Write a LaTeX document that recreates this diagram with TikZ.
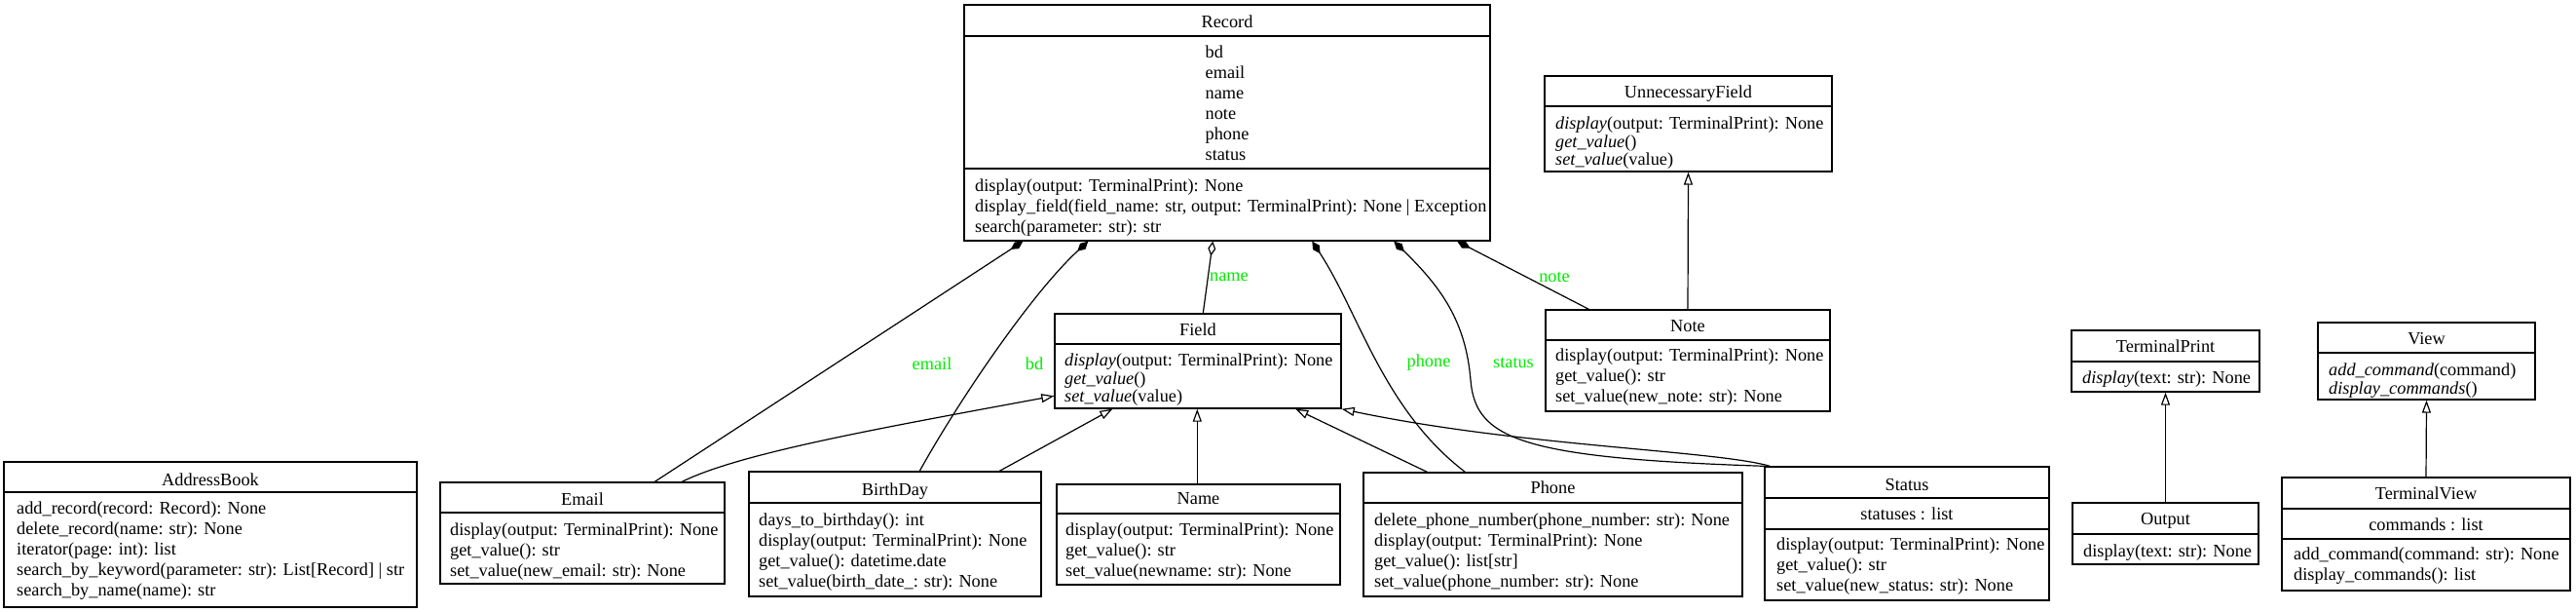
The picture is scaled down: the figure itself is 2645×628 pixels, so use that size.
\documentclass[tikz,border=0pt]{standalone}
\usepackage{fontspec}
\setmainfont{Liberation Serif}
\usetikzlibrary{arrows.meta,fit}
\newcommand\clsfont{\fontsize{18.3}{21}\selectfont}
\newcommand\clsifont{\fontsize{18.3}{18.5}\selectfont}
\definecolor{lblgreen}{RGB}{0,235,0}
\begin{document}
\begin{tikzpicture}[x=1pt,y=-1pt,
  box/.style={draw=black, line width=1.4pt, inner sep=0pt},
  sep/.style={line width=1.4pt},
  title/.style={anchor=base, inner sep=0pt, font=\clsfont},
  body/.style={anchor=north west, inner sep=0pt, align=left, font=\clsfont, execute at begin node=\strut},
  ibody/.style={anchor=north west, inner sep=0pt, align=left, font=\clsifont, execute at begin node=\strut},
  cbody/.style={anchor=north, inner sep=0pt, align=left, font=\clsfont, execute at begin node=\strut},
  conn/.style={line width=1.2pt},
  comp/.style={conn, {Diamond[length=15pt,width=8pt]}-},
  aggr/.style={conn, {Diamond[open,length=15pt,width=8pt,fill=white]}-},
  inh/.style={conn, -{Triangle[open,length=13pt,width=9pt,fill=white]}},
  lbl/.style={text=lblgreen, font=\clsfont, inner sep=0pt}]
\fill[white] (0,0) rectangle (2645,628);
\useasboundingbox (0,0) rectangle (2645,628);

% Record
\node[box, fit={(990,5) (1530,247)}] (record) {};
\draw[sep] (990,37) -- (1530,37) (990,173) -- (1530,173);
\node[title] (record-t) at (1260,28.5) {Record};
\node[cbody] (record-a) at (1260,46.3) {bd\\email\\name\\note\\phone\\status};
\node[body] (record-m) at (1001,183.3) {display(output: TerminalPrint): None\\display\_field(field\_name: str, output: TerminalPrint): None \textbar{} Exception\\search(parameter: str): str};

% Field
\node[box, fit={(1083,322) (1377,419)}] (field) {};
\draw[sep] (1083,353) -- (1377,353);
\node[title] (field-t) at (1230,344.5) {Field};
\node[ibody] (field-m) at (1093,363) {\textit{display}(output: TerminalPrint): None\\\textit{get\_value}()\\\textit{set\_value}(value)};

% UnnecessaryField
\node[box, fit={(1586,78) (1881,176)}] (unnecessary) {};
\draw[sep] (1586,109) -- (1881,109);
\node[title] (unnecessary-t) at (1733.5,100.5) {UnnecessaryField};
\node[ibody] (unnecessary-m) at (1597,120) {\textit{display}(output: TerminalPrint): None\\\textit{get\_value}()\\\textit{set\_value}(value)};

% Note
\node[box, fit={(1587,318) (1879,422)}] (note) {};
\draw[sep] (1587,349) -- (1879,349);
\node[title] (note-t) at (1733,340.5) {Note};
\node[body] (note-m) at (1597,357.3) {display(output: TerminalPrint): None\\get\_value(): str\\set\_value(new\_note: str): None};

% AddressBook
\node[box, fit={(4,474) (428,623)}] (addressbook) {};
\draw[sep] (4,505) -- (428,505);
\node[title] (addressbook-t) at (216,498.5) {AddressBook};
\node[body] (addressbook-m) at (17,514.6) {add\_record(record: Record): None\\delete\_record(name: str): None\\iterator(page: int): list\\search\_by\_keyword(parameter: str): List[Record] \textbar{} str\\search\_by\_name(name): str};

% Email
\node[box, fit={(452,495) (744,599)}] (email) {};
\draw[sep] (452,526) -- (744,526);
\node[title] (email-t) at (598,518.5) {Email};
\node[body] (email-m) at (462,536.3) {display(output: TerminalPrint): None\\get\_value(): str\\set\_value(new\_email: str): None};

% BirthDay
\node[box, fit={(769,484) (1069,612)}] (birthday) {};
\draw[sep] (769,516) -- (1069,516);
\node[title] (birthday-t) at (919,508.5) {BirthDay};
\node[body] (birthday-m) at (779,526.3) {days\_to\_birthday(): int\\display(output: TerminalPrint): None\\get\_value(): datetime.date\\set\_value(birth\_date\_: str): None};

% Name
\node[box, fit={(1085,497) (1376,600)}] (name) {};
\draw[sep] (1085,527) -- (1376,527);
\node[title] (name-t) at (1230.5,517.5) {Name};
\node[body] (name-m) at (1094,536.3) {display(output: TerminalPrint): None\\get\_value(): str\\set\_value(newname: str): None};

% Phone
\node[box, fit={(1400,485) (1789,612)}] (phone) {};
\draw[sep] (1400,516) -- (1789,516);
\node[title] (phone-t) at (1594.5,506.5) {Phone};
\node[body] (phone-m) at (1411,526.3) {delete\_phone\_number(phone\_number: str): None\\display(output: TerminalPrint): None\\get\_value(): list[str]\\set\_value(phone\_number: str): None};

% Status
\node[box, fit={(1812,479) (2104,616)}] (status) {};
\draw[sep] (1812,511) -- (2104,511) (1812,543) -- (2104,543);
\node[title] (status-t) at (1958,503.5) {Status};
\node[title] (status-a) at (1958,533.5) {statuses : list};
\node[body] (status-m) at (1824,551.3) {display(output: TerminalPrint): None\\get\_value(): str\\set\_value(new\_status: str): None};

% TerminalPrint
\node[box, fit={(2127,339) (2320,402)}] (terminalprint) {};
\draw[sep] (2127,371) -- (2320,371);
\node[title] (terminalprint-t) at (2223.5,361.5) {TerminalPrint};
\node[body] (terminalprint-m) at (2138,378.3) {\textit{display}(text: str): None};

% Output
\node[box, fit={(2128,516) (2319,579)}] (output) {};
\draw[sep] (2128,548) -- (2319,548);
\node[title] (output-t) at (2223.5,538.5) {Output};
\node[body] (output-m) at (2139,556.3) {display(text: str): None};

% View
\node[box, fit={(2380,331) (2603,410)}] (view) {};
\draw[sep] (2380,362) -- (2603,362);
\node[title] (view-t) at (2491.5,353.5) {View};
\node[ibody] (view-m) at (2391,373) {\textit{add\_command}(command)\\\textit{display\_commands}()};

% TerminalView
\node[box, fit={(2343,490) (2639,606)}] (terminalview) {};
\draw[sep] (2343,522) -- (2639,522) (2343,553) -- (2639,553);
\node[title] (terminalview-t) at (2491,512.5) {TerminalView};
\node[title] (terminalview-a) at (2491,544.5) {commands : list};
\node[body] (terminalview-m) at (2355,561.3) {add\_command(command: str): None\\display\_commands(): list};

% associations from Record
\draw[comp] ([xshift=61pt]record.south west) -- ([xshift=221pt]email.north west);
\draw[comp] ([xshift=128pt]record.south west) .. controls (1060,300) and (985,410) .. ([xshift=176pt]birthday.north west);
\draw[aggr] ([xshift=256pt]record.south west) -- ([xshift=153pt]field.north west);
\draw[comp] ([xshift=358pt]record.south west) .. controls (1395,320) and (1420,420) .. ([xshift=105pt]phone.north west);
\draw[comp] ([xshift=442pt]record.south west) .. controls (1480,295) and (1505,330) .. (1510,390) .. controls (1515,450) and (1560,470) .. (status.north west);
\draw[comp] ([xshift=507pt]record.south west) -- ([xshift=45pt]note.north west);

% labels
\node[lbl] (l-email) at (957,373) {email};
\node[lbl] (l-bd) at (1062,373) {bd};
\node[lbl] (l-name) at (1262,284) {name};
\node[lbl] (l-phone) at (1467,372) {phone};
\node[lbl] (l-status) at (1554,372) {status};
\node[lbl] (l-note) at (1596,284) {note};

% inheritance
\draw[inh] ([xshift=249pt]email.north west) .. controls (760,465) and (900,440) .. ([yshift=-85pt]field.north west);
\draw[inh] ([xshift=258pt]birthday.north west) -- ([xshift=60pt]field.south west);
\draw[inh] ([xshift=145pt]name.north west) -- ([xshift=147pt]field.south west);
\draw[inh] ([xshift=66pt]phone.north west) -- ([xshift=248pt]field.south west);
\draw[inh] ([xshift=6pt]status.north west) .. controls (1760,462) and (1560,458) .. (field.south east);
\draw[inh] (note.north) -- (unnecessary.south);
\draw[inh] (output.north) -- (terminalprint.south);
\draw[inh] (terminalview.north) -- (view.south);
\end{tikzpicture}
\end{document}
